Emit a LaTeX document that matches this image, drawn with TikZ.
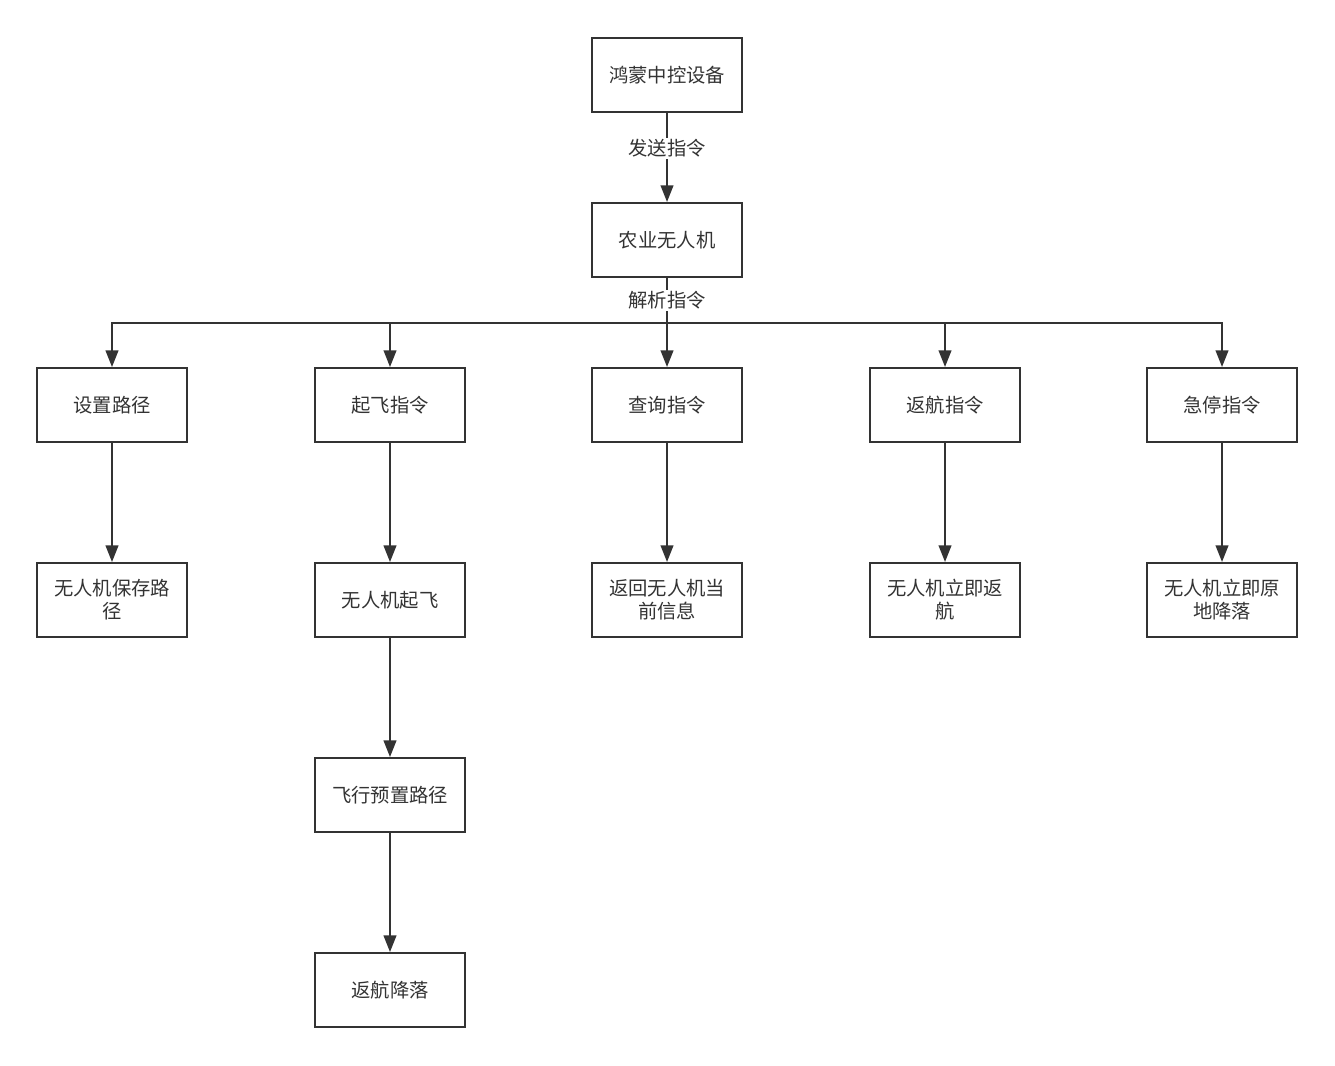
\documentclass[tikz,border=0pt]{standalone}
\usepackage{fontspec}
\setmainfont{Noto Sans CJK SC}
\usetikzlibrary{arrows.meta}
\definecolor{lineGray}{RGB}{51, 51, 51}
\definecolor{textGray}{RGB}{51, 51, 51}

\begin{document}
\begin{tikzpicture}[x=0.75pt,y=-0.75pt,
    flowBox/.style={draw=lineGray, line width=1.5pt, minimum width=112.5pt, minimum height=55.5pt,
      inner sep=0pt, align=center, text=textGray, font=\fontsize{14.5}{17.25}\selectfont},
    flowArrow/.style={draw=lineGray, line width=1.5pt, -{Triangle[length=12.5pt,width=9.5pt]}},
    edgeText/.style={fill=white, inner sep=1pt, text=textGray, font=\fontsize{14.5}{17.25}\selectfont}]
        \useasboundingbox (0,0) rectangle (1335,1065);
        \node[flowBox] (hongmeng) at (667,75) {鸿蒙中控设备};
        \node[flowBox] (drone) at (667,240) {农业无人机};
        \node[flowBox] (setPath) at (112,405) {设置路径};
        \node[flowBox] (takeoff) at (390,405) {起飞指令};
        \node[flowBox] (query) at (667,405) {查询指令};
        \node[flowBox] (goHome) at (945,405) {返航指令};
        \node[flowBox] (eStop) at (1222,405) {急停指令};
        \node[flowBox] (savePath) at (112,600) {无人机保存路\\径};
        \node[flowBox] (liftOff) at (390,600) {无人机起飞};
        \node[flowBox] (sendInfo) at (667,600) {返回无人机当\\前信息};
        \node[flowBox] (returnNow) at (945,600) {无人机立即返\\航};
        \node[flowBox] (landNow) at (1222,600) {无人机立即原\\地降落};
        \node[flowBox] (flyRoute) at (390,795) {飞行预置路径};
        \node[flowBox] (landHome) at (390,990) {返航降落};
        % connectors
        \draw[flowArrow] (hongmeng) -- node[edgeText,pos=0.4] (sendText) {发送指令} (drone);
        \foreach \cmd in {setPath,takeoff,query,goHome,eStop}
          \draw[flowArrow] (drone.south) -- ++(0,45) -| (\cmd.north);
        \path (drone.south) -- node[edgeText] (parseText) {解析指令} ++(0,45);
        \foreach \from/\to in {setPath/savePath,takeoff/liftOff,query/sendInfo,goHome/returnNow,
            eStop/landNow,liftOff/flyRoute,flyRoute/landHome}
          \draw[flowArrow] (\from) -- (\to);
      \end{tikzpicture}
\end{document}
